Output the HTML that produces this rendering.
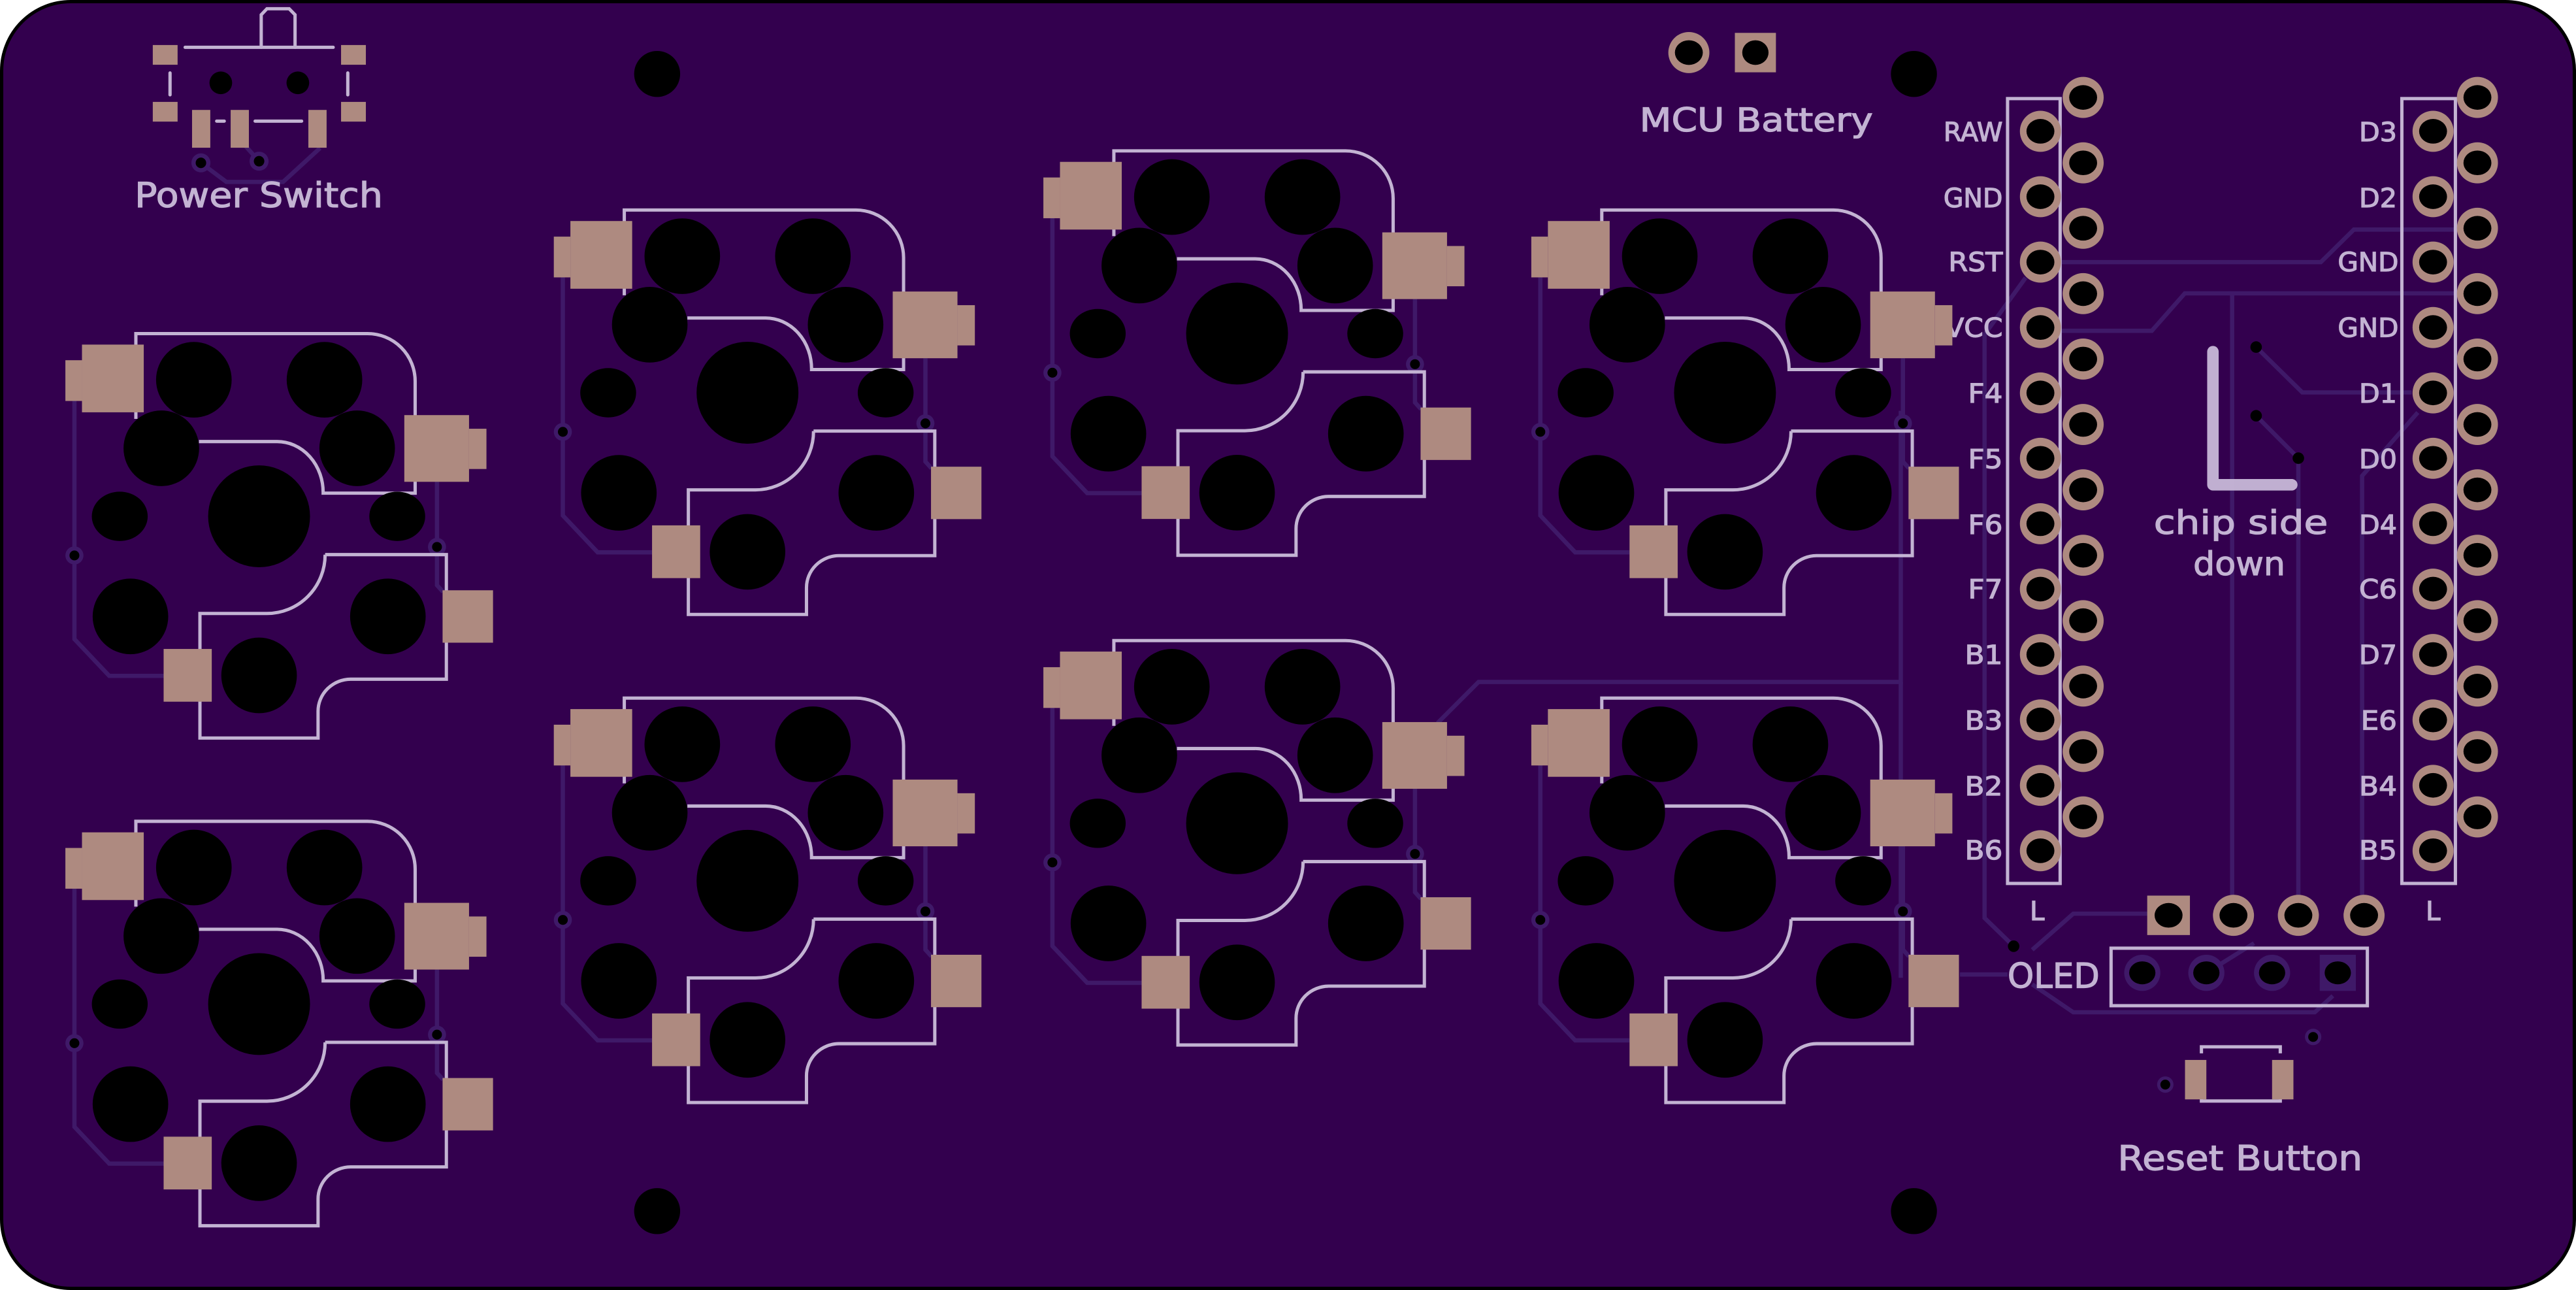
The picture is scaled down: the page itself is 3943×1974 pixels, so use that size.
<!DOCTYPE html>
<html><head><meta charset="utf-8"><style>
html,body{margin:0;padding:0;background:#fff;width:3943px;height:1974px;overflow:hidden}
svg{display:block}
text{font-family:"DejaVu Sans","Liberation Sans",sans-serif;fill:#c3b3d3;stroke:#c3b3d3;stroke-width:0.5}
</style></head><body>
<svg width="3943" height="1974" viewBox="0 0 1568 785" preserveAspectRatio="none" xmlns="http://www.w3.org/2000/svg">
<defs>
<g id="k">
 <g fill="none" stroke="#3f1968" stroke-width="2.6">
  <path d="M -112.4 -71.4 V 74.7 L -91.2 97.1 H -58.1"/>
  <path d="M 108.3 -21 V 41.9 L 112 46"/>
 </g>
 <circle cx="-112.4" cy="23.8" r="5.5" fill="#3f1968"/><circle cx="-112.4" cy="23.8" r="3" fill="#000"/>
 <circle cx="108.3" cy="18.6" r="5.5" fill="#3f1968"/><circle cx="108.3" cy="18.6" r="3" fill="#000"/>
 <g fill="none" stroke="#c3b3d3" stroke-width="2">
  <path d="M -75 -59.3 V -111.2 H 66 A 29 29 0 0 1 95 -82.2 V -14.1 H 39 A 28 31 0 0 0 10.9 -45.5 H -36.6"/>
  <path d="M 40.2 23.3 H 114 V 99.1 H 55.7 A 20 19.5 0 0 0 35.9 118.6 V 134.9 H -36 V 59.1 H 4.8 A 35.4 35.8 0 0 0 40.2 23.3"/>
 </g>
 <g fill="#ae8a80">
  <rect x="-107.8" y="-104.5" width="37.6" height="41.2"/>
  <rect x="-117.9" y="-95" width="10.1" height="24.8"/>
  <rect x="88.4" y="-61.6" width="39.4" height="40.6"/>
  <rect x="127.8" y="-53.3" width="10.6" height="24.5"/>
  <rect x="111.7" y="45" width="30.7" height="31.9"/>
  <rect x="-58.1" y="80.7" width="29.3" height="32.1"/>
 </g>
 <g fill="#000">
  <circle cx="0" cy="0" r="31"/>
  <circle cx="-39.7" cy="-83.1" r="23"/><circle cx="39.8" cy="-83.1" r="23"/>
  <circle cx="-59.5" cy="-41.4" r="23"/><circle cx="59.7" cy="-41.4" r="23"/>
  <ellipse cx="-84.8" cy="0" rx="17" ry="15"/><ellipse cx="84.1" cy="0" rx="17" ry="15"/>
  <circle cx="-78.3" cy="60.9" r="23"/><circle cx="78.4" cy="60.9" r="23"/>
  <circle cx="0" cy="96.8" r="23"/>
 </g>
</g>
<g id="p"><circle r="12.5" fill="#ae8a80"/><ellipse rx="8.5" ry="7.5" fill="#000"/></g>
</defs>
<rect x="1" y="1" width="1566" height="783" rx="42" fill="#33004e" stroke="#000" stroke-width="2"/>

<g fill="none" stroke="#3f1968" stroke-width="2.6">
 <path d="M1254.6 159.5 H1412.7 L1432.8 139.7 H1494"/>
 <path d="M1233 169 L1208 203.5 V558.6 L1225.7 575.8"/>
 <path d="M1254.6 201.3 H1309.8 L1329.9 178.5 H1494"/>
 <path d="M1358.7 178.5 V545.7"/>
 <path d="M1373.3 211.2 L1401.4 238.8 H1468"/>
 <path d="M1373.3 253 L1399 278.8 V545.7"/>
 <path d="M1437.8 545.7 V289.6 L1471.7 251"/>
 <path d="M1193 593 H1222"/>
 <path d="M1237 599 L1262 616 H1409 L1420 606"/>
 <path d="M1237 578 L1262 556 H1307"/>
 <path d="M1343 592 L1372 574"/>
 <path d="M875 440 L900 415 H1157 V250"/>
 <path d="M1157 415 V595"/>
 <path d="M122.3 99.1 L137.8 110.7 H172.3 L194.8 90.1"/>
 <path d="M157.7 98.1 L145.8 84.8"/>
</g>
<g fill="#000"><circle cx="1373.3" cy="211.2" r="3.5"/><circle cx="1373.3" cy="253" r="3.5"/><circle cx="1399" cy="278.8" r="3.5"/><circle cx="1225.7" cy="575.8" r="3.5"/></g>

<g fill="#000"><circle cx="400" cy="45" r="14"/><circle cx="1165" cy="45" r="14"/><circle cx="400" cy="737" r="14"/><circle cx="1165" cy="737" r="14"/></g>

<g fill="none" stroke="#c3b3d3" stroke-width="2" stroke-linecap="round">
 <path d="M112.7 28.8 H202.8"/>
 <path d="M159 28.8 V9 L162.5 5.3 H176 L179.6 9 V28.8"/>
 <path d="M103.5 44.4 V57.7 M211.7 44.4 V57.7 M131.9 73.7 H136.5 M155.3 73.7 H183.6"/>
</g>
<g fill="#ae8a80">
 <rect x="93" y="27.4" width="15.1" height="12"/><rect x="207.6" y="27.4" width="15.1" height="12"/>
 <rect x="93" y="62" width="15.1" height="12"/><rect x="207.6" y="62" width="15.1" height="12"/>
 <rect x="116.9" y="66.9" width="11.1" height="23"/><rect x="140.4" y="66.9" width="11.1" height="23"/><rect x="187.7" y="66.9" width="11.1" height="23"/>
</g>
<g fill="#000"><circle cx="134.4" cy="50.4" r="6.9"/><circle cx="181.3" cy="50.4" r="6.9"/></g>
<circle cx="122.3" cy="99.1" r="5.8" fill="#3f1968"/><circle cx="122.3" cy="99.1" r="3.2" fill="#000"/>
<circle cx="157.7" cy="98.1" r="5.8" fill="#3f1968"/><circle cx="157.7" cy="98.1" r="3.2" fill="#000"/>
<text x="82" y="126" font-size="21" textLength="151" lengthAdjust="spacingAndGlyphs">Power Switch</text>

<use href="#p" x="1028" y="32"/>
<rect x="1056" y="20" width="25" height="24" fill="#ae8a80"/><ellipse cx="1068.5" cy="32" rx="8" ry="7.5" fill="#000"/>
<text x="998" y="80" font-size="20" textLength="142" lengthAdjust="spacingAndGlyphs">MCU Battery</text>

<g fill="none" stroke="#c3b3d3" stroke-width="2">
 <rect x="1222" y="60" width="32" height="477.6"/>
 <rect x="1462" y="60" width="32.6" height="477.6"/>
 <rect x="1285" y="577" width="156" height="35"/>
 <path d="M1340 641 V637 H1388 V641 M1340 666 V670 H1388 V666"/>
</g>
<path d="M1347 214 V295 H1395" fill="none" stroke="#c8b8d8" stroke-width="7" stroke-linecap="round" stroke-linejoin="round" opacity="0.95"/>
<text x="1364" y="325" font-size="20" text-anchor="middle" textLength="106" lengthAdjust="spacingAndGlyphs">chip side</text>
<text x="1363" y="350" font-size="20" text-anchor="middle" textLength="56" lengthAdjust="spacingAndGlyphs">down</text>
<text x="1240" y="560" font-size="16" text-anchor="middle">L</text>
<text x="1481" y="560" font-size="16" text-anchor="middle">L</text>
<text x="1222" y="601" font-size="21" textLength="56" lengthAdjust="spacingAndGlyphs">OLED</text>
<text x="1289" y="712" font-size="21" textLength="149" lengthAdjust="spacingAndGlyphs">Reset Button</text>

<g font-size="16" text-anchor="end">
 <text x="1219" y="86" textLength="36" lengthAdjust="spacingAndGlyphs">RAW</text>
 <text x="1219" y="126" textLength="36" lengthAdjust="spacingAndGlyphs">GND</text>
 <text x="1219" y="165" textLength="33" lengthAdjust="spacingAndGlyphs">RST</text>
 <text x="1219" y="205" textLength="35" lengthAdjust="spacingAndGlyphs">VCC</text>
 <text x="1219" y="245" textLength="21" lengthAdjust="spacingAndGlyphs">F4</text>
 <text x="1219" y="285" textLength="21" lengthAdjust="spacingAndGlyphs">F5</text>
 <text x="1219" y="325" textLength="21" lengthAdjust="spacingAndGlyphs">F6</text>
 <text x="1219" y="364" textLength="21" lengthAdjust="spacingAndGlyphs">F7</text>
 <text x="1219" y="404" textLength="23" lengthAdjust="spacingAndGlyphs">B1</text>
 <text x="1219" y="444" textLength="23" lengthAdjust="spacingAndGlyphs">B3</text>
 <text x="1219" y="484" textLength="23" lengthAdjust="spacingAndGlyphs">B2</text>
 <text x="1219" y="523" textLength="23" lengthAdjust="spacingAndGlyphs">B6</text>
 <text x="1459" y="86" textLength="23" lengthAdjust="spacingAndGlyphs">D3</text>
 <text x="1459" y="126" textLength="23" lengthAdjust="spacingAndGlyphs">D2</text>
 <text x="1460" y="165" textLength="37" lengthAdjust="spacingAndGlyphs">GND</text>
 <text x="1460" y="205" textLength="37" lengthAdjust="spacingAndGlyphs">GND</text>
 <text x="1459" y="245" textLength="23" lengthAdjust="spacingAndGlyphs">D1</text>
 <text x="1459" y="285" textLength="23" lengthAdjust="spacingAndGlyphs">D0</text>
 <text x="1459" y="325" textLength="23" lengthAdjust="spacingAndGlyphs">D4</text>
 <text x="1459" y="364" textLength="23" lengthAdjust="spacingAndGlyphs">C6</text>
 <text x="1459" y="404" textLength="23" lengthAdjust="spacingAndGlyphs">D7</text>
 <text x="1459" y="444" textLength="22" lengthAdjust="spacingAndGlyphs">E6</text>
 <text x="1459" y="484" textLength="23" lengthAdjust="spacingAndGlyphs">B4</text>
 <text x="1459" y="523" textLength="23" lengthAdjust="spacingAndGlyphs">B5</text>
</g>

<g>
 <use href="#p" x="1242" y="79.9"/><use href="#p" x="1242" y="119.7"/><use href="#p" x="1242" y="159.5"/><use href="#p" x="1242" y="199.3"/>
 <use href="#p" x="1242" y="239.1"/><use href="#p" x="1242" y="278.9"/><use href="#p" x="1242" y="318.7"/><use href="#p" x="1242" y="358.5"/>
 <use href="#p" x="1242" y="398.3"/><use href="#p" x="1242" y="438.1"/><use href="#p" x="1242" y="477.9"/><use href="#p" x="1242" y="517.7"/>
 <use href="#p" x="1268" y="59.3"/><use href="#p" x="1268" y="99.1"/><use href="#p" x="1268" y="138.9"/><use href="#p" x="1268" y="178.7"/>
 <use href="#p" x="1268" y="218.5"/><use href="#p" x="1268" y="258.3"/><use href="#p" x="1268" y="298.1"/><use href="#p" x="1268" y="337.9"/>
 <use href="#p" x="1268" y="377.7"/><use href="#p" x="1268" y="417.5"/><use href="#p" x="1268" y="457.3"/><use href="#p" x="1268" y="497.1"/>
 <use href="#p" x="1481" y="79.9"/><use href="#p" x="1481" y="119.7"/><use href="#p" x="1481" y="159.5"/><use href="#p" x="1481" y="199.3"/>
 <use href="#p" x="1481" y="239.1"/><use href="#p" x="1481" y="278.9"/><use href="#p" x="1481" y="318.7"/><use href="#p" x="1481" y="358.5"/>
 <use href="#p" x="1481" y="398.3"/><use href="#p" x="1481" y="438.1"/><use href="#p" x="1481" y="477.9"/><use href="#p" x="1481" y="517.7"/>
 <use href="#p" x="1508" y="59.3"/><use href="#p" x="1508" y="99.1"/><use href="#p" x="1508" y="138.9"/><use href="#p" x="1508" y="178.7"/>
 <use href="#p" x="1508" y="218.5"/><use href="#p" x="1508" y="258.3"/><use href="#p" x="1508" y="298.1"/><use href="#p" x="1508" y="337.9"/>
 <use href="#p" x="1508" y="377.7"/><use href="#p" x="1508" y="417.5"/><use href="#p" x="1508" y="457.3"/><use href="#p" x="1508" y="497.1"/>
</g>

<rect x="1307" y="545" width="26" height="24" fill="#ae8a80"/><ellipse cx="1320" cy="557" rx="8.5" ry="7.5" fill="#000"/>
<use href="#p" x="1359.5" y="557"/><use href="#p" x="1399" y="557"/><use href="#p" x="1439" y="557"/>
<g fill="#3f1968"><circle cx="1304" cy="592" r="11"/><circle cx="1343" cy="592" r="11"/><circle cx="1383" cy="592" r="11"/><rect x="1412" y="581" width="22" height="22"/></g>
<g fill="#000"><ellipse cx="1304" cy="592" rx="8" ry="7"/><ellipse cx="1343" cy="592" rx="8" ry="7"/><ellipse cx="1383" cy="592" rx="8" ry="7"/><ellipse cx="1423" cy="592" rx="8" ry="7"/></g>

<g fill="#ae8a80"><rect x="1330" y="645" width="13" height="24"/><rect x="1383" y="645" width="13" height="24"/></g>
<g fill="#3f1968"><circle cx="1318" cy="660" r="5"/><circle cx="1408" cy="631" r="5"/></g>
<g fill="#000"><circle cx="1318" cy="660" r="3"/><circle cx="1408" cy="631" r="3"/></g>

<use href="#k" x="157.7" y="314.2"/>
<use href="#k" x="157.7" y="611"/>
<use href="#k" x="455" y="239"/>
<use href="#k" x="455" y="536"/>
<use href="#k" x="753" y="203"/>
<use href="#k" x="753" y="501"/>
<use href="#k" x="1050" y="239"/>
<use href="#k" x="1050" y="536"/>
</svg>
</body></html>
